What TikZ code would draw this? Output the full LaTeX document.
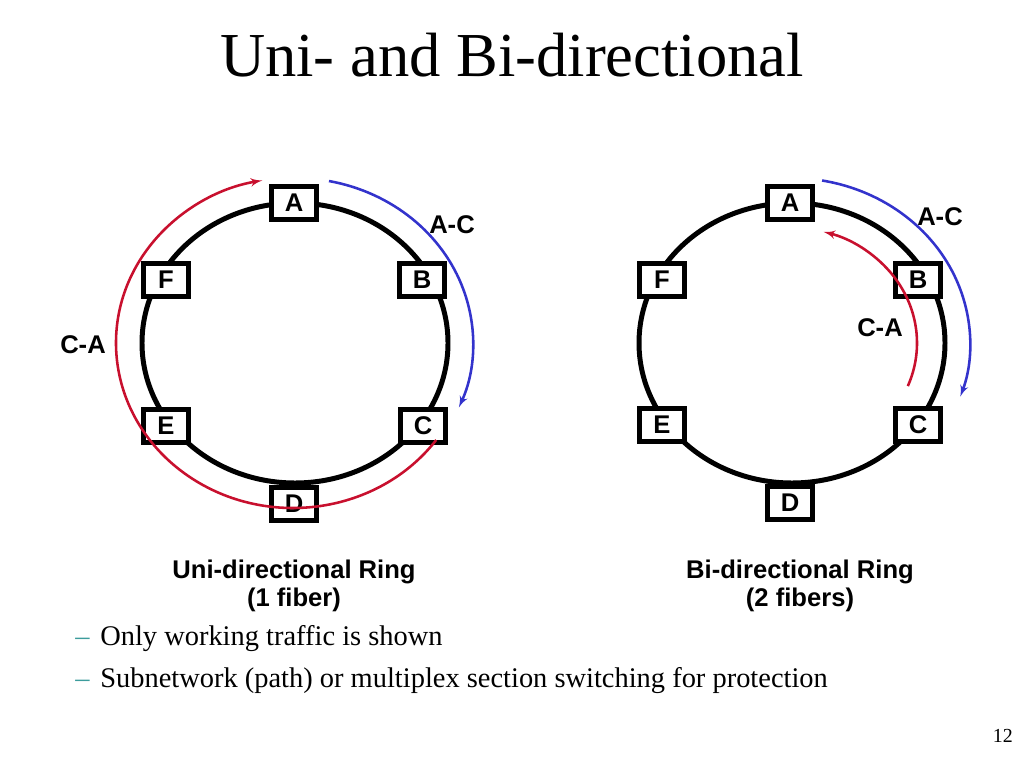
\documentclass[tikz,border=0pt]{standalone}
\usepackage{fontspec}
\setmainfont{Liberation Serif}
\setsansfont{Liberation Sans}
\usetikzlibrary{arrows,positioning}
\definecolor{fwdred}{RGB}{200,16,46}
\definecolor{fwdblue}{RGB}{51,51,204}
\definecolor{dashteal}{RGB}{60,156,156}
\tikzset{font=\sffamily\bfseries\fontsize{18}{20}\selectfont}
\tikzset{station/.style={draw, line width=3pt, fill=white, inner sep=0pt,
    minimum width=31.6pt, minimum height=23.2pt}}
\tikzset{ring/.style={line width=3.5pt}}
\tikzset{traffic/.style={line width=1.8pt, -{latex'[scale=1.4]}}}
\tikzset{bodytext/.style={font=\rmfamily\fontsize{20}{24}\selectfont, inner sep=0pt}}

\begin{document}
\begin{tikzpicture}[x=0.703125pt, y=-0.703125pt]
  \useasboundingbox (0,0) rectangle (1024,768);

  \coordinate (o1) at (295,343);
  \coordinate (o2) at (792,343);

  % start points of the traffic arcs
  \coordinate (ca1) at ({293+177*cos(36)},{343+165*sin(36)});
  \coordinate (ac1) at ({295+178*cos(-79)},{343+165*sin(-79)});
  \coordinate (ac2) at ({791+179*cos(-80)},{343+165*sin(-80)});
  \coordinate (ca2) at ({791+126*cos(22)},{343+115*sin(22)});

  \node[font=\rmfamily\fontsize{44}{44}\selectfont, anchor=base] (title)
  at (512,77) {Uni- and Bi-directional};

  \draw[ring] (o1) ellipse[x radius=153, y radius=140];
  \draw[ring] (o2) ellipse[x radius=153, y radius=140];

  \node[station] (A1) at (294,203) {A};
  \node[station] (B1) at (422,280) {B};
  \node[station] (C1) at (423,426) {C};
  \node[station] (D1) at (294,504) {D};
  \node[station] (E1) at (166,426) {E};
  \node[station] (F1) at (166,280) {F};

  \node[station] (A2) at (790,203) {A};
  \node[station] (B2) at (918,280) {B};
  \node[station] (C2) at (918,425) {C};
  \node[station] (D2) at (790,503) {D};
  \node[station] (E2) at (662,425) {E};
  \node[station] (F2) at (662,280) {F};

  \node (lac1) at (452,225) {A-C};
  \node (lca1) at (83,345) {C-A};
  \node (lac2) at (940,217) {A-C};
  \node (lca2) at (880,328) {C-A};

  \draw[traffic, fwdred] (ca1) arc[start angle=36, end angle=260, x radius=177, y radius=165];
  \draw[traffic, fwdblue] (ac1) arc[start angle=-79, end angle=23, x radius=178, y radius=165];
  \draw[traffic, fwdblue] (ac2) arc[start angle=-80, end angle=19, x radius=179, y radius=165];
  \draw[traffic, fwdred] (ca2) arc[start angle=22, end angle=-75, x radius=126, y radius=115];

  \node[anchor=base] (cap1) at (294,578) {Uni-directional Ring};
  \node[anchor=base] (cap1b) at (294,606) {(1 fiber)};
  \node[anchor=base] (cap2) at (800,578) {Bi-directional Ring};
  \node[anchor=base] (cap2b) at (800,606) {(2 fibers)};

  \node[bodytext, anchor=base west, text=dashteal] (d1) at (75,645) {--};
  \node[bodytext, anchor=base west] (t1) at (100,645) {Only working traffic is shown};
  \node[bodytext, anchor=base west, text=dashteal] (d2) at (75,687) {--};
  \node[bodytext, anchor=base west] (t2) at (100,687) {Subnetwork (path) or multiplex section switching for protection};

  \node[font=\rmfamily\fontsize{14}{16}\selectfont, anchor=base east, inner sep=0pt] (pg)
  at (1013,742) {12};
\end{tikzpicture}
\end{document}
